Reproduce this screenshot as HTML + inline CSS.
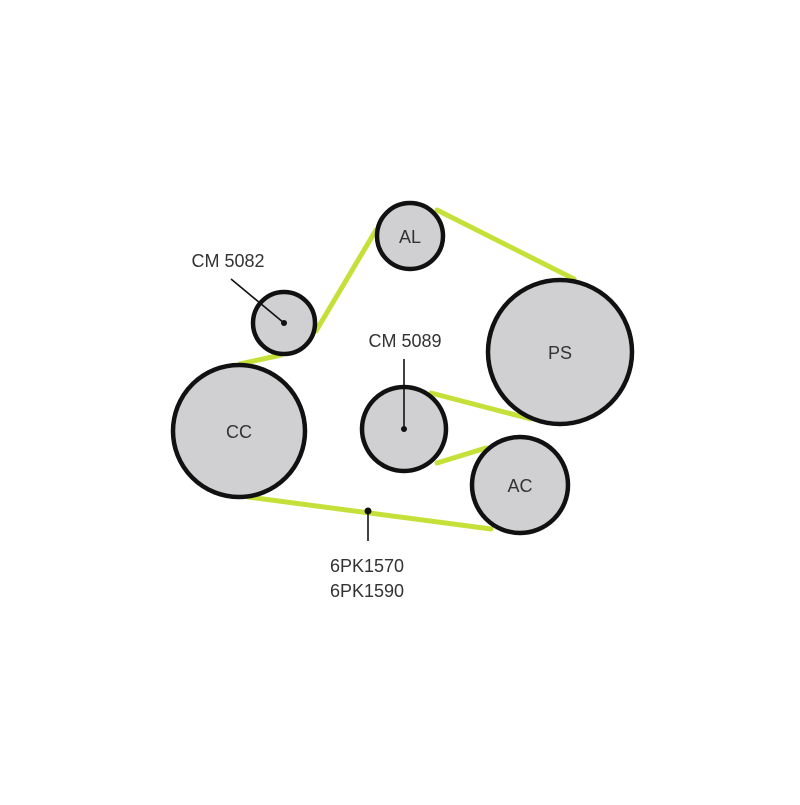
<!DOCTYPE html>
<html><head><style>body{margin:0;background:#fff}</style></head><body>
<svg width="800" height="800" viewBox="0 0 800 800" xmlns="http://www.w3.org/2000/svg" font-family="Liberation Sans, sans-serif">
<rect width="800" height="800" fill="#fff"/>
<g stroke="#c6e03a" stroke-width="5" stroke-linecap="round">
<line x1="240" y1="364" x2="281" y2="355"/>
<line x1="316" y1="331" x2="376" y2="230"/>
<line x1="437" y1="210" x2="574" y2="279"/>
<line x1="431" y1="393" x2="531" y2="419"/>
<line x1="437" y1="463" x2="486" y2="448"/>
<line x1="248" y1="497" x2="491" y2="529"/>
</g>
<g fill="#d0d0d2" stroke="#111" stroke-width="4.5">
<circle cx="410" cy="236" r="33"/>
<circle cx="284" cy="323" r="31"/>
<circle cx="560" cy="352" r="72"/>
<circle cx="239" cy="431" r="66"/>
<circle cx="404" cy="429" r="42"/>
<circle cx="520" cy="485" r="48"/>
</g>
<g stroke="#111" stroke-width="1.6">
<line x1="231" y1="279" x2="284" y2="323"/>
<line x1="404" y1="359" x2="404" y2="429"/>
<line x1="368" y1="511" x2="368" y2="541"/>
</g>
<g fill="#111">
<circle cx="284" cy="323" r="3"/>
<circle cx="404" cy="429" r="3"/>
<circle cx="368" cy="511" r="3.5"/>
</g>
<g fill="#333" font-size="18" text-anchor="middle">
<text x="410" y="243">AL</text>
<text x="560" y="359">PS</text>
<text x="239" y="438">CC</text>
<text x="520" y="492">AC</text>
<text x="228" y="267">CM 5082</text>
<text x="405" y="347">CM 5089</text>
<text x="367" y="572">6PK1570</text>
<text x="367" y="597">6PK1590</text>
</g>
</svg>
</body></html>
